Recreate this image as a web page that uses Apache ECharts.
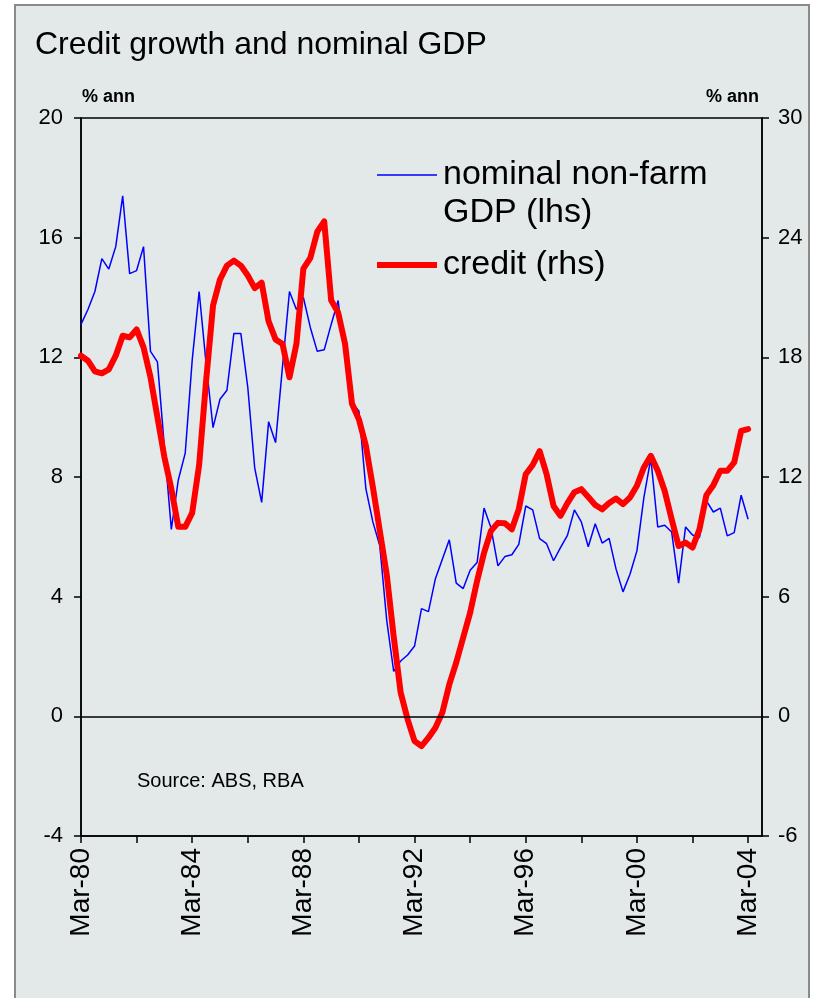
<!DOCTYPE html>
<html>
<head>
<meta charset="utf-8">
<script src="https://cdn.jsdelivr.net/npm/echarts@6/dist/echarts.min.js"></script>
<style>
html,body{margin:0;padding:0;background:#ffffff;}
#chart{width:819px;height:998px;}
</style>
</head>
<body>
<div id="chart"></div>
<script>
// Quarterly categories Mar-80 .. Sep-04 (axis extends slightly past last observation)
const months = ['Mar', 'Jun', 'Sep', 'Dec'];
const categories = [];
for (let y = 1980; y <= 2004; y++) {
  for (let q = 0; q < 4; q++) {
    if (y === 2004 && q > 2) break;
    categories.push(months[q] + '-' + String(y % 100).padStart(2, '0'));
  }
}

// Nominal non-farm GDP growth, % ann (lhs), Mar-80 .. Mar-04
const gdp = [
  13.1, 13.6, 14.2, 15.3, 14.95, 15.7, 17.4, 14.8, 14.9, 15.7,
  12.2, 11.85, 9.0, 6.25, 7.9, 8.8, 11.9, 14.2, 11.8, 9.65,
  10.6, 10.9, 12.8, 12.8, 11.0, 8.3, 7.15, 9.85, 9.15, 11.7,
  14.2, 13.6, 14.0, 13.0, 12.2, 12.25, 13.1, 13.9, 12.0, 10.5,
  10.2, 7.6, 6.5, 5.7, 3.2, 1.5, 1.85, 2.05, 2.35, 3.6,
  3.5, 4.6, 5.25, 5.9, 4.45, 4.27, 4.88, 5.14, 6.96, 6.3,
  5.03, 5.34, 5.4, 5.75, 7.03, 6.9, 5.94, 5.77, 5.2, 5.64,
  6.05, 6.9, 6.5, 5.67, 6.44, 5.79, 5.95, 4.92, 4.16, 4.75,
  5.53, 7.31, 8.62, 6.33, 6.39, 6.16, 4.45, 6.33, 6.06, 5.98,
  7.2, 6.83, 6.96, 6.03, 6.14, 7.39, 6.59
];

// Credit growth, % ann (rhs), Mar-80 .. Mar-04
const credit = [
  18.08, 17.83, 17.3, 17.2, 17.4, 18.08, 19.08, 19.0, 19.4, 18.5,
  17.0, 15.0, 13.0, 11.4, 9.5, 9.5, 10.2, 12.6, 16.8, 20.6,
  21.9, 22.6, 22.85, 22.6, 22.1, 21.47, 21.74, 19.8, 18.9, 18.67,
  17.0, 18.67, 22.45, 22.98, 24.3, 24.82, 20.86, 20.25, 18.67, 15.67,
  14.88, 13.56, 11.5, 9.3, 7.1, 4.0, 1.19, -0.15, -1.24, -1.49,
  -1.07, -0.57, 0.19, 1.6, 2.7, 3.95, 5.2, 6.79, 8.2, 9.3,
  9.7, 9.68, 9.38, 10.39, 12.14, 12.6, 13.3, 12.14, 10.55, 10.05,
  10.69, 11.24, 11.39, 11.0, 10.6, 10.38, 10.7, 10.92, 10.64, 10.97,
  11.56, 12.48, 13.06, 12.31, 11.3, 9.88, 8.54, 8.71, 8.46, 9.38,
  11.09, 11.59, 12.31, 12.31, 12.73, 14.31, 14.4
];

const leftTicks = [-4, 0, 4, 8, 12, 16, 20];
const rightTicks = [-6, 0, 6, 12, 18, 24, 30];

const FONT = '"Liberation Sans", Arial, sans-serif';
const BG = '#e3e8e8';

const chart = echarts.init(document.getElementById('chart'), null, {renderer: 'canvas'});
chart.setOption({
  backgroundColor: '#ffffff',
  animation: false,
  textStyle: {fontFamily: FONT},
  graphic: [
    {type: 'rect', z: -10, shape: {x: 15, y: 5, width: 794, height: 1010},
     style: {fill: BG, stroke: '#8a8a8a', lineWidth: 2}},
    {type: 'text', left: 35, top: 29, z: 10,
     style: {text: 'Credit growth and nominal GDP', fontSize: 32, fontFamily: FONT, fill: '#000'}},
    {type: 'text', left: 82, top: 88, z: 10,
     style: {text: '% ann', fontSize: 18, fontWeight: 'bold', fontFamily: FONT, fill: '#000'}},
    {type: 'text', right: 60, top: 88, z: 10,
     style: {text: '% ann', fontSize: 18, fontWeight: 'bold', fontFamily: FONT, fill: '#000'}},
    {type: 'text', left: 443, top: 196, z: 10,
     style: {text: 'GDP (lhs)', fontSize: 34, fontFamily: FONT, fill: '#000'}},
    {type: 'text', left: 137, top: 771, z: 10,
     style: {text: 'Source: ABS, RBA', fontSize: 20, fontFamily: FONT, fill: '#000'}}
  ],
  legend: [
    {data: ['nominal non-farm GDP (lhs)'], left: 372, top: 153, icon: 'rect',
     itemWidth: 60, itemHeight: 1.6, itemGap: 10, formatter: () => 'nominal non-farm',
     textStyle: {fontSize: 34, color: '#000', fontFamily: FONT, padding: [0, 0, 0, 1]}},
    {data: ['credit (rhs)'], left: 372, top: 243, icon: 'rect',
     itemWidth: 60, itemHeight: 6,
     textStyle: {fontSize: 34, color: '#000', fontFamily: FONT, padding: [0, 0, 0, 1]}}
  ],
  grid: {left: 81, right: 57, top: 118, bottom: 162, show: true,
         borderColor: '#000', borderWidth: 1.5, backgroundColor: 'transparent'},
  xAxis: {
    type: 'category', data: categories, boundaryGap: false,
    axisLine: {onZero: false, lineStyle: {color: '#000', width: 1.5}},
    axisTick: {show: true, length: 7, lineStyle: {color: '#000', width: 1.5},
               interval: (i) => i % 8 === 0},
    axisLabel: {interval: (i) => i % 16 === 0, rotate: 90, fontSize: 28, color: '#000',
                margin: 12, fontFamily: FONT},
    splitLine: {show: false}
  },
  yAxis: [
    {type: 'value', min: leftTicks[0], max: leftTicks[leftTicks.length - 1], interval: 4,
     position: 'left',
     axisLine: {show: true, lineStyle: {color: '#000', width: 1.5}},
     axisTick: {show: true, length: 7, lineStyle: {color: '#000', width: 1.5}},
     axisLabel: {fontSize: 22, color: '#000', margin: 18, fontFamily: FONT},
     splitLine: {show: false}},
    {type: 'value', min: rightTicks[0], max: rightTicks[rightTicks.length - 1], interval: 6,
     position: 'right',
     axisLine: {show: true, lineStyle: {color: '#000', width: 1.5}},
     axisTick: {show: true, length: 7, lineStyle: {color: '#000', width: 1.5}},
     axisLabel: {fontSize: 22, color: '#000', margin: 16, fontFamily: FONT},
     splitLine: {show: false}}
  ],
  series: [
    {name: 'nominal non-farm GDP (lhs)', type: 'line', yAxisIndex: 0, data: gdp,
     symbol: 'none', lineStyle: {color: '#0000ff', width: 1.5}, itemStyle: {color: '#0000ff'},
     z: 2,
     markLine: {silent: true, symbol: 'none', label: {show: false},
                lineStyle: {color: '#000', width: 1.5, type: 'solid'},
                data: [{yAxis: 0}]}},
    {name: 'credit (rhs)', type: 'line', yAxisIndex: 1, data: credit,
     symbol: 'none', lineStyle: {color: '#ff0000', width: 6, join: 'round', cap: 'round'},
     itemStyle: {color: '#ff0000'}, z: 3}
  ]
});
</script>
</body>
</html>
